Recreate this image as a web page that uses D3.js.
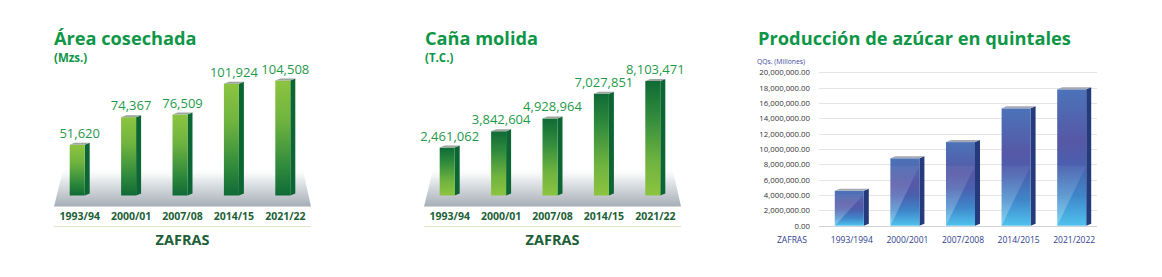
<!DOCTYPE html>
<html><head><meta charset="utf-8">
<script src="https://cdn.jsdelivr.net/npm/d3@7"></script>
<style>body{margin:0;background:#fff;} svg{display:block;font-family:'Open Sans',sans-serif;}</style>
</head><body><svg id="c" width="1162" height="277"></svg>
<script>
// ---- data ----
const zafras = ["1993/94","2000/01","2007/08","2014/15","2021/22"];
const areaValues = [51620,74367,76509,101924,104508];
const canaValues = [2461062,3842604,4928964,7027851,8103471];
const azucarCategories = ["1993/1994","2000/2001","2007/2008","2014/2015","2021/2022"];
const azucarValues = [4560000,8790000,10900000,15300000,17780000];
const azucarTicks = [0,2000000,4000000,6000000,8000000,10000000,12000000,14000000,16000000,18000000,20000000];

const svg = d3.select("#c");
const defs = svg.append("defs");

function linGrad(id, stops, x1=0,y1=0,x2=0,y2=1){
  const g = defs.append("linearGradient").attr("id",id)
    .attr("x1",x1).attr("y1",y1).attr("x2",x2).attr("y2",y2);
  stops.forEach(s=>g.append("stop").attr("offset",s[0]).attr("stop-color",s[1]).attr("stop-opacity",s[2]===undefined?1:s[2]));
}
linGrad("gUp",[[0,"#8cc43f"],[0.35,"#6fb33f"],[0.75,"#2f8a3c"],[1,"#0f6a36"]]);
linGrad("gDown",[[0,"#0f6a36"],[0.3,"#2f8a3c"],[0.7,"#6fb33f"],[1,"#8cc43f"]]);
linGrad("gFloor",[[0,"#ffffff",0],[0.35,"#e6e9ec",1],[1,"#a6aeb6",1]]);
linGrad("gBlue",[[0,"#4b73b9"],[0.38,"#5658a6"],[0.55,"#4a5fae"],[0.78,"#3f86c9"],[1,"#4fc2ee"]]);
linGrad("gHi",[[0,"#ffffff",0.05],[1,"#ffffff",0.3]]);

const darkGreen = "#1d5f36";
const titleGreen = "#0e9647";
const valueGreen = "#1f9a4a";

function greenChart(o){
  const g = svg.append("g");
  const x = d3.scaleBand().domain(zafras).range([o.x0,o.x1]);
  const y = d3.scaleLinear().domain([o.dmin, d3.max(o.values)]).range([195.5, o.top]);
  const bottom = y(o.dmin);
  // title
  g.append("text").attr("x",o.tx).attr("y",44.5).attr("font-size",18.2).attr("font-weight",700)
    .attr("fill",titleGreen).text(o.title);
  g.append("text").attr("x",o.tx).attr("y",62).attr("font-size",11.5).attr("font-weight",700)
    .attr("fill",titleGreen).text(o.unit);
  // floor
  g.append("polygon").attr("points",[[o.x0,206.5],[o.x1,206.5],[o.x1-9,166],[o.x0+10,166]].join(" "))
    .attr("fill","url(#gFloor)");
  const w=15, d=5, dy=2;
  const data = zafras.map((c,i)=>({c, v:o.values[i]}));
  const bars = g.selectAll(".bar").data(data).join("g");
  bars.each(function(p){
    const sel = d3.select(this);
    const xl = x(p.c)+x.bandwidth()/2-10;
    const yt = y(p.v);
    sel.append("polygon").attr("points",[[xl+w,yt],[xl+w+d,yt-dy],[xl+w+d,bottom-dy],[xl+w,bottom]].join(" "))
      .attr("fill","#0b6634");
    sel.append("rect").attr("x",xl).attr("y",yt).attr("width",w).attr("height",bottom-yt)
      .attr("fill",`url(#${o.grad})`);
    sel.append("polygon").attr("points",[[xl,yt],[xl+w,yt],[xl+w+d,yt-dy],[xl+d,yt-dy]].join(" "))
      .attr("fill","#9aa59c");
    sel.append("text").attr("x",xl+10).attr("y",yt-7).attr("text-anchor","middle")
      .attr("font-size",13).attr("fill",valueGreen).text(d3.format(",")(p.v));
  });
  // x axis
  const ax = g.append("g").attr("transform","translate(0,205)")
    .call(d3.axisBottom(x).tickSize(0).tickPadding(7.5));
  ax.select(".domain").remove();
  ax.selectAll("text").attr("font-size",10.5).attr("font-weight",700).attr("fill",darkGreen)
    .attr("font-family","'Open Sans',sans-serif");
  g.append("line").attr("x1",o.x0).attr("x2",o.x1).attr("y1",226.5).attr("y2",226.5)
    .attr("stroke","#dbe9c4").attr("stroke-width",1);
  g.append("text").attr("x",(o.x0+o.x1)/2).attr("y",245).attr("text-anchor","middle")
    .attr("font-size",14.5).attr("font-weight",700).attr("fill",darkGreen).text("ZAFRAS");
}

greenChart({x0:54,x1:311,tx:54,title:"Área cosechada",unit:"(Mzs.)",values:areaValues,dmin:10000,top:80.5,grad:"gUp"});
greenChart({x0:424,x1:681,tx:425,title:"Caña molida",unit:"(T.C.)",values:canaValues,dmin:-1600000,top:81,grad:"gDown"});

// ---- chart 3 ----
(function(){
  const g = svg.append("g");
  const y = d3.scaleLinear().domain([0,20000000]).range([225.7,72.3]);
  const x = d3.scaleBand().domain(azucarCategories).range([824,1102]);
  g.append("text").attr("x",758).attr("y",45).attr("font-size",18.3).attr("font-weight",700)
    .attr("fill",titleGreen).text("Producción de azúcar en quintales");
  g.append("text").attr("x",757).attr("y",64).attr("font-size",6.8).attr("fill","#3d4ba0").text("QQs. (Millones)");
  // grid
  g.selectAll(".grid").data(azucarTicks).join("line")
    .attr("x1",819).attr("x2",1097).attr("y1",d=>Math.round(y(d))+0.5).attr("y2",d=>Math.round(y(d))+0.5)
    .attr("stroke",d=>d===0?"#cfd2d6":"#e3e4e6").attr("stroke-width",1);
  const ay = g.append("g").attr("transform","translate(810,0)")
    .call(d3.axisLeft(y).tickValues(azucarTicks).tickFormat(d3.format(",.2f")).tickSize(0).tickPadding(0));
  ay.select(".domain").remove();
  ay.selectAll("text").attr("font-size",7.8).attr("fill","#333").attr("font-family","'Open Sans',sans-serif");
  const w=29, d=5, dy=2, bottom=y(0);
  const data = azucarCategories.map((c,i)=>({c,v:azucarValues[i]}));
  g.selectAll(".b").data(data).join("g").each(function(p){
    const sel=d3.select(this);
    const xl = x(p.c)+x.bandwidth()/2-17;
    const yt = y(p.v);
    const h = bottom-yt;
    sel.append("polygon").attr("points",[[xl+w,yt],[xl+w+d,yt-dy],[xl+w+d,bottom-dy],[xl+w,bottom]].join(" "))
      .attr("fill","#243a7a");
    sel.append("rect").attr("x",xl).attr("y",yt).attr("width",w).attr("height",h).attr("fill","url(#gBlue)");
    const rise = Math.min(h*0.9,60);
    sel.append("polygon").attr("points",[[xl,bottom],[xl+w,bottom-rise],[xl,bottom-rise]].join(" "))
      .attr("fill","url(#gHi)");
    sel.append("polygon").attr("points",[[xl,yt],[xl+w,yt],[xl+w+d,yt-dy],[xl+d,yt-dy]].join(" "))
      .attr("fill","#a4a9b4");
  });
  const ax = g.append("g").attr("transform","translate(0,225.7)")
    .call(d3.axisBottom(x).tickSize(0).tickPadding(11));
  ax.select(".domain").remove();
  ax.selectAll("text").attr("font-size",8.5).attr("fill","#2e3d8f").attr("font-family","'Open Sans',sans-serif");
  g.append("text").attr("x",777).attr("y",242.7).attr("font-size",8.5).attr("fill","#2e3d8f").text("ZAFRAS");
})();
</script></body></html>
